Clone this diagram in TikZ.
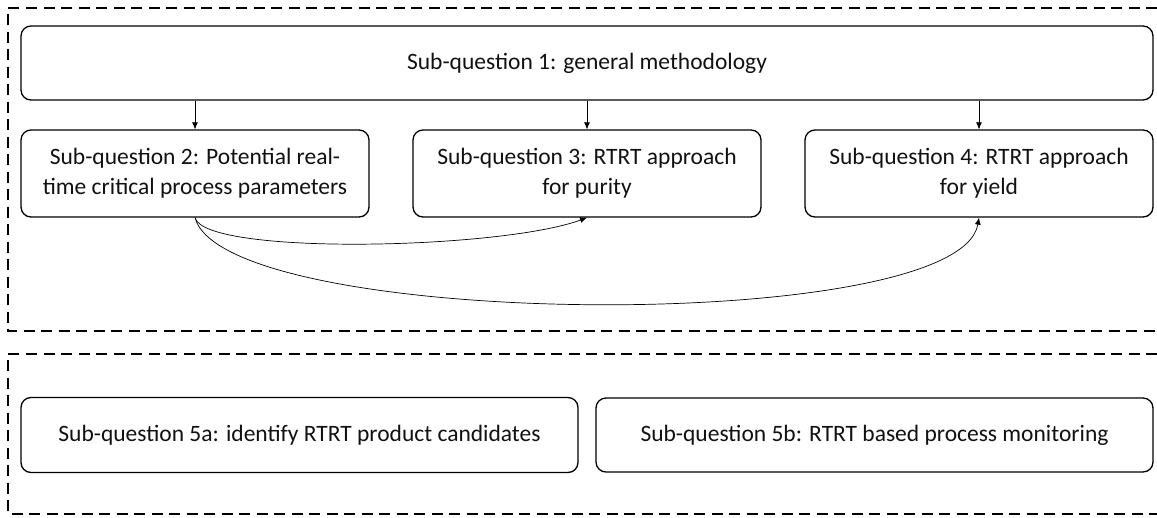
\documentclass[tikz,border=0pt]{standalone}
\usepackage{fontspec}
\setmainfont{Carlito}
\usetikzlibrary{arrows.meta}
\definecolor{txt}{HTML}{111111}
\tikzset{
  qbox/.style={draw=black, line width=1.3pt, rounded corners=10pt, inner sep=0pt, anchor=center,
    align=center, text=txt, font=\fontsize{23.5pt}{30pt}\selectfont},
  frame/.style={draw=black, line width=2.3pt, dash pattern=on 11pt off 6.5pt},
  link/.style={draw=black, line width=0.7pt, -{Latex[length=7pt,width=6pt]}}
}
\begin{document}
\begin{tikzpicture}[x=1pt,y=-1pt]
\useasboundingbox (0,0) rectangle (1157,517);
% frames
\coordinate (f1a) at (1157,8);
\coordinate (f1b) at (8,8);
\coordinate (f1c) at (8,331);
\coordinate (f1d) at (1157,331);
\draw[frame] (f1a) -- (f1b) -- (f1c) -- (f1d);
\coordinate (f2a) at (1157,354);
\coordinate (f2b) at (8,354);
\coordinate (f2c) at (8,514);
\coordinate (f2d) at (1157,514);
\draw[frame] (f2a) -- (f2b) -- (f2c) -- (f2d);
% boxes
\node[qbox, minimum width=1132pt, minimum height=74pt] (b1) at (587,63) {Sub-question 1: general methodology};
\node[qbox, minimum width=348pt, minimum height=87pt] (b2) at (195,173.5) {Sub-question 2: Potential real-\\time critical process parameters};
\node[qbox, minimum width=348pt, minimum height=87pt] (b3) at (587,173.5) {Sub-question 3: RTRT approach\\for purity};
\node[qbox, minimum width=348pt, minimum height=87pt] (b4) at (979,173.5) {Sub-question 4: RTRT approach\\for yield};
\node[qbox, minimum width=557pt, minimum height=75pt] (b5a) at (299.5,435) {Sub-question 5a: identify RTRT product candidates};
\node[qbox, minimum width=557pt, minimum height=74pt] (b5b) at (874.5,435) {Sub-question 5b: RTRT based process monitoring};
% vertical arrows
\draw[link] (b2.north |- b1.south) -- (b2.north);
\draw[link] (b3.north |- b1.south) -- (b3.north);
\draw[link] (b4.north |- b1.south) -- (b4.north);
% curved arrows
\draw[link] (b2.south) .. controls +(10,38) and +(-87,32) .. (b3.south);
\draw[link] (b2.south) .. controls +(30,112) and +(-20,118) .. (b4.south);
\end{tikzpicture}
\end{document}
